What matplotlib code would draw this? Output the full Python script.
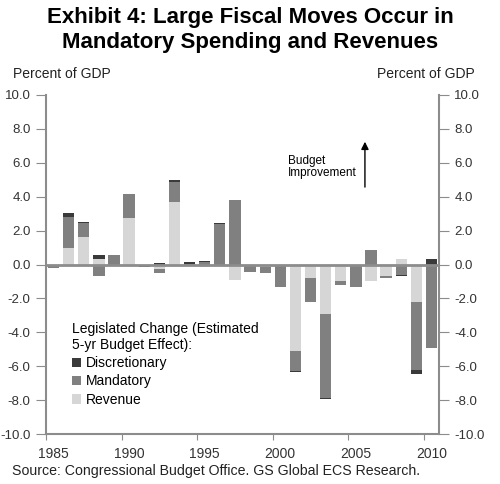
import numpy as np
import matplotlib
matplotlib.use("Agg")
import matplotlib.pyplot as plt

years = list(range(1985, 2011))
revenue = [0, 1.0, 1.65, 0.35, 0, 2.75, 0, -0.28, 3.7, 0, -0.12, 0, -0.92,
           0, -0.15, -0.05, -5.1, -0.8, -2.9, -1.0, -0.1, -0.95, -0.65, 0.3, -2.2, -0.1]
mandatory = [-0.2, 1.8, 0.8, -0.65, 0.55, 1.4, -0.05, -0.2, 1.15, 0.05, 0.12, 2.4, 3.8,
             -0.45, -0.35, -1.25, -1.2, -1.4, -4.95, -0.2, -1.2, 0.85, -0.12, -0.6, -4.0, -4.8]
discretionary = [-0.03, 0.25, 0.05, 0.2, -0.1, 0.03, -0.1, 0.08, 0.12, 0.08, 0.08, 0.03, 0.03,
                 0, 0, 0, -0.03, 0, -0.05, 0, 0, 0, 0, -0.05, -0.25, 0.35]

series = [("Revenue", revenue, "#d6d6d6"),
          ("Mandatory", mandatory, "#808080"),
          ("Discretionary", discretionary, "#3a3a3a")]

plt.rcParams['font.family'] = ['Liberation Sans', 'DejaVu Sans']
plt.rcParams['font.size'] = 9

fig = plt.figure(figsize=(5, 4.84), dpi=100)
ax = fig.add_axes([0.092, 0.103, 0.786, 0.701])

x = np.arange(len(years))
pos_base = np.zeros(len(years))
neg_base = np.zeros(len(years))
handles = {}
for name, vals, col in series:
    v = np.array(vals)
    bottom = np.where(v >= 0, pos_base, neg_base)
    b = ax.bar(x, v, 0.75, bottom=bottom, color=col, zorder=2)
    handles[name] = b
    pos_base = pos_base + np.where(v > 0, v, 0)
    neg_base = neg_base + np.where(v < 0, v, 0)

ax.axhline(0, color="#8c8c8c", lw=2, zorder=3)

ax.set_xlim(-0.5, len(years) - 0.5)
ax.set_ylim(-10, 10)
ax.set_yticks(np.arange(-10, 10.1, 2))
ax.set_yticklabels(["%.1f" % t for t in np.arange(-10, 10.1, 2)])
ax.set_xticks(np.arange(-0.5, len(years), 5))
ax.set_xticklabels([])
ax.set_xticks(np.arange(0, len(years), 5), minor=True)
ax.set_xticklabels([str(years[i]) for i in range(0, len(years), 5)], minor=True)
ax.tick_params(axis="x", which="minor", length=0, pad=9, labelsize=10, labelcolor="#333333")
ax.tick_params(axis="x", which="major", length=4, color="#8c8c8c")
ax.tick_params(axis="y", length=7, color="#8c8c8c", labelright=True, right=True,
               labelsize=9.5, labelcolor="#333333", pad=4)
for s in ["left", "right", "bottom"]:
    ax.spines[s].set_color("#8c8c8c")
    ax.spines[s].set_linewidth(1.5)
ax.spines["top"].set_visible(False)

fig.text(0.5, 0.985, "Exhibit 4: Large Fiscal Moves Occur in\nMandatory Spending and Revenues",
         ha="center", va="top", fontsize=16, fontweight="bold", linespacing=1.25)
fig.text(0.026, 0.848, "Percent of GDP", fontsize=10, va="center", color="#222222")
fig.text(0.95, 0.848, "Percent of GDP", fontsize=10, va="center", ha="right", color="#222222")
fig.text(0.024, 0.018, "Source: Congressional Budget Office. GS Global ECS Research.",
         fontsize=10.2, color="#222222")

ax.text(15.5, 5.75, "Budget\nImprovement", fontsize=8.5, va="center", ha="left", linespacing=1.0)
ax.annotate("", xy=(20.6, 7.4), xytext=(20.6, 4.4),
            arrowprops=dict(arrowstyle="-|>", color="black", lw=1, mutation_scale=11))

leg = ax.legend([handles["Discretionary"], handles["Mandatory"], handles["Revenue"]],
                ["Discretionary", "Mandatory", "Revenue"],
                title="Legislated Change (Estimated\n5-yr Budget Effect):",
                loc="upper left", bbox_to_anchor=(0.143, 0.335), bbox_transform=fig.transFigure,
                frameon=False, fontsize=10, title_fontsize=10, alignment="left",
                handlelength=0.7, handleheight=0.7, handletextpad=0.3, labelspacing=0.3,
                borderpad=0, borderaxespad=0)

fig.savefig("out.png", dpi=100)
